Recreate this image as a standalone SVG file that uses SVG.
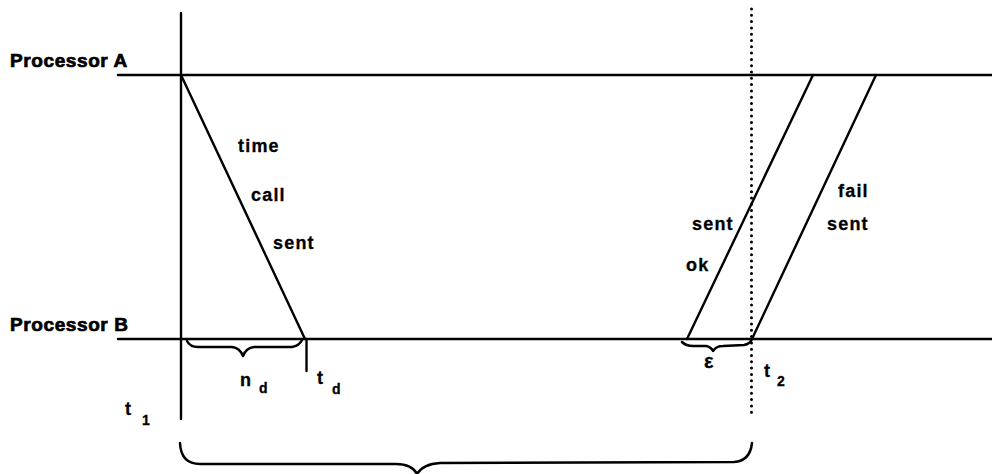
<svg xmlns="http://www.w3.org/2000/svg" width="992" height="474" viewBox="0 0 992 474">
<style>
.ln{stroke:#000;stroke-width:2.4;fill:none;stroke-linecap:round}
.br{stroke:#000;stroke-width:2.5;fill:none;stroke-linecap:round;stroke-linejoin:round}
.dot{stroke:#000;stroke-width:3;fill:none;stroke-linecap:round;stroke-dasharray:0 6.3}
.lbl{font-family:"Liberation Sans",Arial,sans-serif;font-weight:bold;font-size:19px;letter-spacing:0.6px;fill:#000;stroke:#000;stroke-width:0.7}
.t{font-family:"Liberation Sans",Arial,sans-serif;font-weight:bold;font-size:18px;letter-spacing:1.2px;fill:#000;stroke:#000;stroke-width:0.3}
.s{font-family:"Liberation Sans",Arial,sans-serif;font-weight:bold;font-size:14px;fill:#000;stroke:#000;stroke-width:0.3}
</style>
<rect width="992" height="474" fill="#fff"/>
<g id="processorA">
<line class="ln" x1="118" y1="75" x2="992" y2="75"/>
<text class="lbl" x="10" y="67">Processor A</text>
</g>
<g id="processorB">
<line class="ln" x1="118" y1="339" x2="992" y2="339"/>
<text class="lbl" x="10" y="331">Processor B</text>
</g>
<g id="t1-axis">
<line class="ln" x1="181" y1="13" x2="181" y2="419"/>
<text class="t" x="125" y="415">t</text>
<text class="s" x="142" y="425">1</text>
</g>
<g id="t2-axis">
<line class="dot" x1="751.5" y1="9" x2="751.5" y2="418"/>
<text class="t" x="764" y="377">t</text>
<text class="s" x="777" y="386">2</text>
</g>
<g id="connectors">
<line class="ln" x1="181" y1="75" x2="305" y2="339"/>
<line class="ln" x1="813" y1="75" x2="687" y2="339"/>
<line class="ln" x1="876" y1="75" x2="752" y2="339"/>
<line class="ln" x1="306.5" y1="339" x2="306.5" y2="371"/>
</g>
<g id="msg-time-call-sent">
<text class="t" x="238" y="152">time</text>
<text class="t" x="251" y="201">call</text>
<text class="t" x="273" y="249">sent</text>
</g>
<g id="msg-sent-ok">
<text class="t" x="692" y="230">sent</text>
<text class="t" x="686" y="271">ok</text>
</g>
<g id="msg-fail-sent">
<text class="t" x="838" y="197">fail</text>
<text class="t" x="827" y="230">sent</text>
</g>
<g id="brace-nd">
<path class="br" d="M187,341 Q190,347 198,347 L232,347 Q240,348 243,356 Q246,348 254,347 L292,347 Q299,346 302,340"/>
<text class="t" x="240" y="386">n</text>
<text class="s" x="259" y="393">d</text>
<text class="t" x="317" y="384">t</text>
<text class="s" x="332" y="394">d</text>
</g>
<g id="brace-eps">
<path class="br" d="M682,342 Q686,346 693,346 L706,346 Q711,347 713,351 Q716,346 723,346 L744,345 Q750,344 752,339"/>
<text class="t" x="704" y="368" style="font-size:20px">ε</text>
</g>
<g id="brace-bottom">
<path class="br" d="M180,443 Q181,464 200,464 L396,464 Q412,464 417,474 Q423,464 440,463 L734,462 Q750,461 752,443"/>
</g>
</svg>
